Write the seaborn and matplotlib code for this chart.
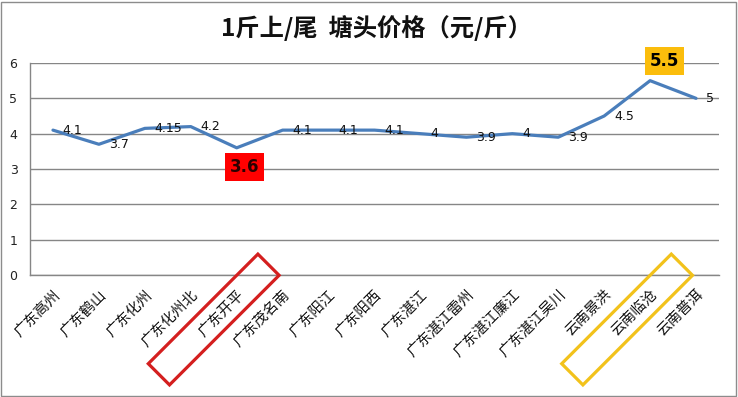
import matplotlib
matplotlib.use("Agg")
import matplotlib.pyplot as plt
import matplotlib.patches as mpatches
import matplotlib.transforms as mtransforms
import pandas as pd
import seaborn as sns

# ──────────────────────────────────────────────
# Data
# ──────────────────────────────────────────────
places = ["广东高州", "广东鹤山", "广东化州", "广东化州北", "广东开平", "广东茂名南",
          "广东阳江", "广东阳西", "广东湛江", "广东湛江雷州", "广东湛江廉江",
          "广东湛江吴川", "云南景洪", "云南临沧", "云南普洱"]
prices = [4.1, 3.7, 4.15, 4.2, 3.6, 4.1, 4.1, 4.1, 4.0, 3.9, 4.0, 3.9, 4.5, 5.5, 5.0]
price_text = ["4.1", "3.7", "4.15", "4.2", "3.6", "4.1", "4.1", "4.1", "4", "3.9",
              "4", "3.9", "4.5", "5.5", "5"]
low_place = "广东开平"
high_place = "云南临沧"

TITLE = "1斤上/尾  塘头价格（元/斤）"

df = pd.DataFrame({"place": places, "price": prices})

# ──────────────────────────────────────────────
# Style
# ──────────────────────────────────────────────
sns.set_style("white")
plt.rcParams["font.family"] = ["Noto Sans CJK SC", "DejaVu Sans"]

LINE_BLUE = "#4a7ebb"
GRID_GREY = "#868686"

fig = plt.figure(figsize=(7.38, 3.97), dpi=100)
ax = fig.add_axes([30 / 738, 122 / 397, 689 / 738, 212 / 397])

sns.lineplot(data=df, x="place", y="price", sort=False, color=LINE_BLUE,
             linewidth=2.3, ax=ax)

ax.set_xlim(-0.5, len(places) - 0.5)
ax.set_ylim(0, 6)
ax.set_xlabel("")
ax.set_ylabel("")

# y axis
ax.set_yticks(range(0, 7))
ax.yaxis.grid(True, color=GRID_GREY, linewidth=1)
ax.tick_params(axis="y", length=0, pad=9, labelsize=9, labelcolor="#222222")
for lbl in ax.get_yticklabels():
    lbl.set_family("DejaVu Sans")

# x axis: tick marks between categories, labels at centres
ax.set_xticks([i - 0.5 for i in range(len(places) + 1)])
ax.set_xticklabels([])
ax.set_xticks(range(len(places)), minor=True)
ax.set_xticklabels(places, minor=True, rotation=45, ha="right",
                   rotation_mode="anchor", fontsize=10.5, fontweight="light",
                   color="#111111")
ax.tick_params(axis="x", which="major", length=5, color=GRID_GREY, width=1,
               direction="out")
ax.tick_params(axis="x", which="minor", length=0, pad=9)

for side in ["top", "right"]:
    ax.spines[side].set_visible(False)
for side in ["left", "bottom"]:
    ax.spines[side].set_color(GRID_GREY)
    ax.spines[side].set_linewidth(1)

# data labels
for i, (v, t) in enumerate(zip(prices, price_text)):
    if places[i] == low_place:
        ax.annotate(t, (i, v), xytext=(5.5, -14), textcoords="offset points",
                    ha="center", va="center", fontsize=12, fontweight="bold",
                    family="DejaVu Sans", color="#2a0000",
                    bbox=dict(boxstyle="square,pad=0.3", fc="#ff0000", ec="none"))
    elif places[i] == high_place:
        ax.annotate(t, (i, v), xytext=(10.5, 14.5), textcoords="offset points",
                    ha="center", va="center", fontsize=12, fontweight="bold",
                    family="DejaVu Sans", color="black",
                    bbox=dict(boxstyle="square,pad=0.3", fc="#fbbd0c", ec="none"))
    else:
        ax.annotate(t, (i, v), xytext=(7, 0), textcoords="offset points",
                    ha="left", va="center", fontsize=9, family="DejaVu Sans",
                    color="#111111")

fig.text(376 / 738, 1 - 28 / 397, TITLE, ha="center", va="center",
         fontsize=17.5, fontweight="bold", color="#111111")


# rotated outline boxes around the highlighted category labels
def label_outline(idx, colour):
    x0, y0 = ax.transData.transform((idx, 0))
    cx, cy = x0 - 23, y0 - 44.5
    w, h = 155, 30
    rect = mpatches.Rectangle((cx - w / 2, cy - h / 2), w, h, angle=45,
                              rotation_point="center", fill=False,
                              edgecolor=colour, linewidth=2.3,
                              transform=mtransforms.IdentityTransform(),
                              clip_on=False)
    fig.add_artist(rect)


label_outline(places.index(low_place), "#d41f1f")
label_outline(places.index(high_place), "#f2c21b")

# outer chart border
fig.add_artist(mpatches.Rectangle((0.002, 0.003), 0.995, 0.993, fill=False,
                                  edgecolor="#8c8c8c", linewidth=1,
                                  transform=fig.transFigure))

fig.savefig("out.png", dpi=100)
